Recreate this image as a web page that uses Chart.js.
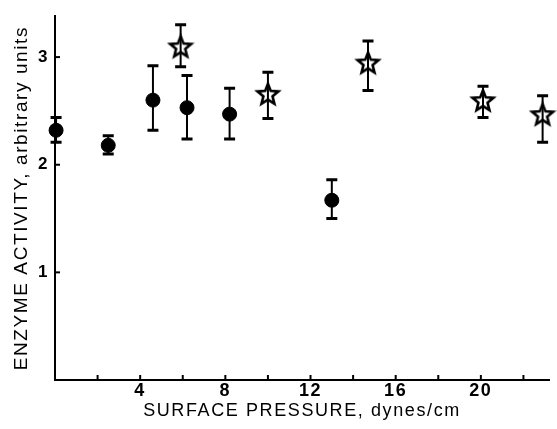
<!DOCTYPE html>
<html>
<head>
<meta charset="utf-8">
<script src="https://cdn.jsdelivr.net/npm/chart.js@4.4.0/dist/chart.umd.min.js"></script>
<style>
  html, body { margin: 0; padding: 0; background: #fff; }
  #wrap { width: 557px; height: 429px; }
</style>
</head>
<body>
<div id="wrap"><canvas id="chart" width="557" height="429"></canvas></div>
<script>
// filled circles
var circleX    = [0.05, 2.5, 4.6, 6.2, 8.2, 13.0];
var circleY    = [2.32, 2.18, 2.60, 2.53, 2.47, 1.67];
var circleLow  = [2.21, 2.10, 2.32, 2.24, 2.24, 1.50];
var circleHigh = [2.44, 2.27, 2.92, 2.83, 2.71, 1.86];

// open stars
var starX    = [5.9, 10.0, 14.7, 20.1, 22.9];
var starY    = [3.09, 2.65, 2.94, 2.59, 2.46];
var starLow  = [2.91, 2.43, 2.69, 2.44, 2.21];
var starHigh = [3.30, 2.86, 3.15, 2.73, 2.64];

var xTickLabels = [4, 8, 12, 16, 20];
var yTickLabels = [1, 2, 3];

function toPoints(xs, ys) {
    return xs.map(function (x, i) { return { x: x, y: ys[i] }; });
}

// outline star used as point style
function makeStar() {
    var c = document.createElement('canvas');
    c.width = 28; c.height = 28;
    var g = c.getContext('2d');
    var outer = 11, inner = 4.8;
    g.beginPath();
    for (var i = 0; i < 10; i++) {
        var r = (i % 2 === 0) ? outer : inner;
        var a = -Math.PI / 2 + i * Math.PI / 5;
        var px = 14 + r * Math.cos(a), py = 14 + r * Math.sin(a);
        if (i === 0) g.moveTo(px, py); else g.lineTo(px, py);
    }
    g.closePath();
    g.lineWidth = 2.6;
    g.lineJoin = 'miter';
    g.strokeStyle = '#000';
    g.stroke();
    return c;
}

var errorBars = {
    id: 'errorBars',
    beforeDatasetsDraw: function (chart) {
        var ctx = chart.ctx, ys = chart.scales.y;
        ctx.save();
        ctx.strokeStyle = '#000';
        chart.data.datasets.forEach(function (ds, di) {
            var meta = chart.getDatasetMeta(di);
            meta.data.forEach(function (pt, i) {
                var top = ys.getPixelForValue(ds.errHigh[i]);
                var bot = ys.getPixelForValue(ds.errLow[i]);
                ctx.lineWidth = 2;
                ctx.beginPath();
                ctx.moveTo(pt.x, top); ctx.lineTo(pt.x, bot);
                ctx.stroke();
                ctx.lineWidth = 3;
                ctx.beginPath();
                ctx.moveTo(pt.x - 5.5, top); ctx.lineTo(pt.x + 5.5, top);
                ctx.moveTo(pt.x - 5.5, bot); ctx.lineTo(pt.x + 5.5, bot);
                ctx.stroke();
            });
        });
        ctx.restore();
    }
};

// small inward tick marks on both axes
var innerTicks = {
    id: 'innerTicks',
    beforeDraw: function (chart) {
        chart.ctx.letterSpacing = '1.6px';
    },
    afterDraw: function (chart) {
        var ctx = chart.ctx, xs = chart.scales.x, ys = chart.scales.y;
        ctx.save();
        ctx.strokeStyle = '#000';
        ctx.lineWidth = 2;
        xs.ticks.forEach(function (t) {
            if (t.value === 0) return;
            var px = xs.getPixelForValue(t.value);
            ctx.beginPath();
            ctx.moveTo(px, xs.top); ctx.lineTo(px, xs.top - 5);
            ctx.stroke();
        });
        ys.ticks.forEach(function (t) {
            if (t.value === 0) return;
            var py = ys.getPixelForValue(t.value);
            ctx.beginPath();
            ctx.moveTo(ys.right, py); ctx.lineTo(ys.right + 5, py);
            ctx.stroke();
        });
        ctx.restore();
    }
};

Chart.defaults.font.family = '"Liberation Sans", Arial, sans-serif';
Chart.defaults.color = '#000';

new Chart(document.getElementById('chart'), {
    type: 'scatter',
    data: {
        datasets: [{
            data: toPoints(circleX, circleY),
            errLow: circleLow,
            errHigh: circleHigh,
            pointStyle: 'circle',
            pointRadius: 7,
            backgroundColor: '#000',
            borderColor: '#000',
            borderWidth: 1,
            clip: false
        }, {
            data: toPoints(starX, starY),
            errLow: starLow,
            errHigh: starHigh,
            pointStyle: makeStar(),
            clip: false
        }]
    },
    options: {
        responsive: false,
        animation: false,
        events: [],
        layout: { padding: { top: 12, left: 0, right: 0, bottom: 0 } },
        plugins: { legend: { display: false }, tooltip: { enabled: false } },
        scales: {
            x: {
                type: 'linear',
                min: 0,
                max: 23.2,
                afterFit: function (s) { s.height = 49; },
                grid: { display: false, drawTicks: false },
                border: { display: true, color: '#000', width: 2 },
                ticks: {
                    stepSize: 2,
                    includeBounds: false,
                    padding: 0,
                    maxRotation: 0,
                    autoSkip: false,
                    font: { size: 18, weight: 'bold' },
                    callback: function (v) { return xTickLabels.indexOf(v) >= 0 ? String(v) : ''; }
                },
                title: {
                    display: true,
                    text: 'SURFACE PRESSURE, dynes/cm',
                    font: { size: 18 },
                    padding: { top: 0, bottom: 7 }
                }
            },
            y: {
                type: 'linear',
                min: 0,
                max: 3.38,
                afterFit: function (s) { s.width = 55; },
                grid: { display: false, drawTicks: false },
                border: { display: true, color: '#000', width: 2 },
                ticks: {
                    stepSize: 1,
                    includeBounds: false,
                    padding: 6,
                    font: { size: 17, weight: 'bold' },
                    callback: function (v) { return yTickLabels.indexOf(v) >= 0 ? String(v) : ''; }
                },
                title: {
                    display: true,
                    text: 'ENZYME ACTIVITY, arbitrary units',
                    font: { size: 19 },
                    padding: { top: 10, bottom: 0 }
                }
            }
        }
    },
    plugins: [errorBars, innerTicks]
});
</script>
</body>
</html>
